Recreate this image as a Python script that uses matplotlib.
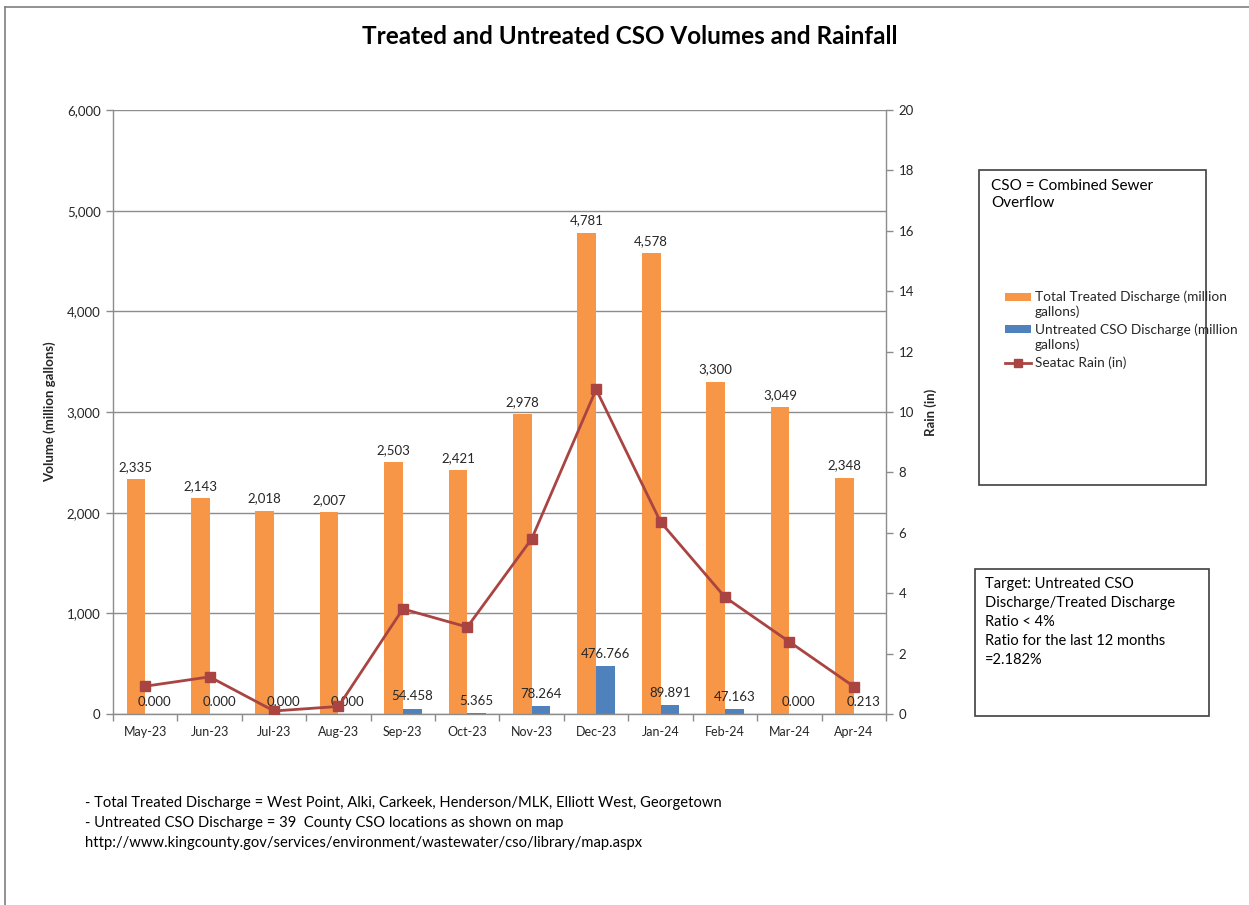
import matplotlib
matplotlib.use("Agg")
import matplotlib.pyplot as plt
from matplotlib.patches import Rectangle
from matplotlib.lines import Line2D
from matplotlib.ticker import FuncFormatter, MultipleLocator
import numpy as np

# ---------------- data ----------------
months = ["May-23", "Jun-23", "Jul-23", "Aug-23", "Sep-23", "Oct-23",
          "Nov-23", "Dec-23", "Jan-24", "Feb-24", "Mar-24", "Apr-24"]
treated = [2335, 2143, 2018, 2007, 2503, 2421, 2978, 4781, 4578, 3300, 3049, 2348]
untreated = [0.000, 0.000, 0.000, 0.000, 54.458, 5.365, 78.264, 476.766,
             89.891, 47.163, 0.000, 0.213]
rain = [0.92, 1.23, 0.10, 0.25, 3.48, 2.88, 5.80, 10.75, 6.36, 3.87, 2.39, 0.91]

series_names = ["Total Treated Discharge (million\ngallons)",
                "Untreated CSO Discharge (million\ngallons)",
                "Seatac Rain (in)"]
title = "Treated and Untreated CSO Volumes and Rainfall"
left_label = "Volume (million gallons)"
right_label = "Rain (in)"
box1_text = "CSO = Combined Sewer\nOverflow"
box2_text = ("Target: Untreated CSO\nDischarge/Treated Discharge\nRatio < 4%\n"
             "Ratio for the last 12 months\n=2.182%")
footer_lines = ["- Total Treated Discharge = West Point, Alki, Carkeek, Henderson/MLK, Elliott West, Georgetown",
                "- Untreated CSO Discharge = 39  County CSO locations as shown on map",
                "http://www.kingcounty.gov/services/environment/wastewater/cso/library/map.aspx"]

# ---------------- style ----------------
plt.rcParams['font.family'] = ['Lato', 'DejaVu Sans']
ORANGE = "#F79646"
BLUE = "#4F81BD"
RED = "#A94442"
GRID = "#8C8C8C"
TXT = "#262626"

W, H = 1249, 905
fig = plt.figure(figsize=(W / 100, H / 100), dpi=100)
fig.patch.set_facecolor("white")


def fx(px):
    return px / W


def fy(py):
    return 1 - py / H


# axes in pixel coords
L, R, T, B = 113, 886, 110, 714
ax = fig.add_axes([fx(L), fy(B), fx(R) - fx(L), fy(T) - fy(B)])
ax2 = ax.twinx()

x = np.arange(len(months))
bw = 0.29
b1 = ax.bar(x - bw / 2, treated, bw, color=ORANGE, zorder=2)
b2 = ax.bar(x + bw / 2, untreated, bw, color=BLUE, zorder=2)

for rect, v in zip(b1, treated):
    ax.annotate(f"{v:,.0f}", (rect.get_x() + rect.get_width() / 2, rect.get_height()),
                xytext=(0, 4.5), textcoords="offset points", ha="center", va="bottom",
                fontsize=9.5, color=TXT, zorder=3)
for rect, v in zip(b2, untreated):
    ax.annotate(f"{v:.3f}", (rect.get_x() + rect.get_width() / 2, rect.get_height()),
                xytext=(0, 4.5), textcoords="offset points", ha="center", va="bottom",
                fontsize=9.5, color=TXT, zorder=3)

ax2.plot(x, rain, color=RED, lw=2.0, marker="s", markersize=6.5, zorder=4)

ax.set_xlim(-0.5, len(months) - 0.5)
ax.set_ylim(0, 6000)
ax2.set_ylim(0, 20)
ax.yaxis.set_major_locator(MultipleLocator(1000))
ax.yaxis.set_major_formatter(FuncFormatter(lambda v, p: f"{v:,.0f}"))
ax2.yaxis.set_major_locator(MultipleLocator(2))

ax.set_xticks(x)
ax.set_xticklabels(months)
ax.set_xticks(np.arange(-0.5, len(months) + 0.5, 1), minor=True)
ax.tick_params(axis="x", which="major", length=0, pad=9, labelsize=9, labelcolor=TXT)
ax.tick_params(axis="x", which="minor", length=5, width=1, color=GRID, direction="out")
ax.tick_params(axis="y", length=5, width=1, color=GRID, pad=4, labelsize=9.5, labelcolor=TXT)
ax2.tick_params(axis="y", length=5, width=1, color=GRID, pad=4, labelsize=9.5, labelcolor=TXT)

ax.yaxis.grid(True, color=GRID, lw=1.0, zorder=0)
ax.set_axisbelow(True)
for a in (ax, ax2):
    for s in a.spines.values():
        s.set_color(GRID)
        s.set_linewidth(1.0)
    a.spines["top"].set_visible(False)
ax.spines["right"].set_visible(False)
ax2.spines["left"].set_visible(False)
ax2.spines["bottom"].set_visible(False)

ax.set_ylabel(left_label, fontsize=9.5, fontweight="bold", color=TXT)
ax.yaxis.set_label_coords(-0.073, 0.5)
ax2.set_ylabel(right_label, fontsize=9.5, fontweight="bold", color=TXT, rotation=90)
ax2.yaxis.set_label_coords(1.050, 0.5)

# title
fig.text(fx(630), fy(37), title, ha="center", va="center", fontsize=17.5,
         fontweight="bold", color="black")

# outer border (top and left edges)
fig.add_artist(Line2D([fx(5), fx(5)], [fy(7), 0], color="#7F7F7F", lw=1.2))
fig.add_artist(Line2D([fx(5), 1], [fy(7), fy(7)], color="#7F7F7F", lw=1.2))

# legend / info box 1
fig.add_artist(Rectangle((fx(979), fy(485)), fx(1206) - fx(979), fy(170) - fy(485),
                         fill=False, edgecolor="#404040", lw=1.2))
fig.text(fx(991), fy(179), box1_text, ha="left", va="top", fontsize=11,
         color="black", linespacing=1.25)

# legend entries
hx0, hx1, tx = 1005, 1031, 1035
fig.add_artist(Rectangle((fx(hx0), fy(301)), fx(hx1) - fx(hx0), fy(293) - fy(301),
                         facecolor=ORANGE, edgecolor="none"))
fig.text(fx(tx), fy(290), series_names[0], ha="left", va="top", fontsize=9.8,
         color=TXT, linespacing=1.3)
fig.add_artist(Rectangle((fx(hx0), fy(333)), fx(hx1) - fx(hx0), fy(325) - fy(333),
                         facecolor=BLUE, edgecolor="none"))
fig.text(fx(tx), fy(323), series_names[1], ha="left", va="top", fontsize=9.8,
         color=TXT, linespacing=1.3)
fig.add_artist(Line2D([fx(hx0), fx(hx1)], [fy(363), fy(363)], color=RED, lw=2.0))
fig.add_artist(Line2D([fx((hx0 + hx1) / 2)], [fy(363)], color=RED, marker="s",
                      markersize=6, lw=0))
fig.text(fx(tx), fy(356), series_names[2], ha="left", va="top", fontsize=9.8,
         color=TXT)

# box 2
fig.add_artist(Rectangle((fx(975), fy(716)), fx(1209) - fx(975), fy(569) - fy(716),
                         fill=False, edgecolor="#404040", lw=1.2))
fig.text(fx(985), fy(577), box2_text, ha="left", va="top", fontsize=10.5,
         color="black", linespacing=1.45)

# footer
for i, line in enumerate(footer_lines):
    fig.text(fx(85), fy(803 + 20 * i), line, ha="left", va="center", fontsize=10.6,
             color="black")

fig.savefig("out.png", dpi=100, facecolor="white")
